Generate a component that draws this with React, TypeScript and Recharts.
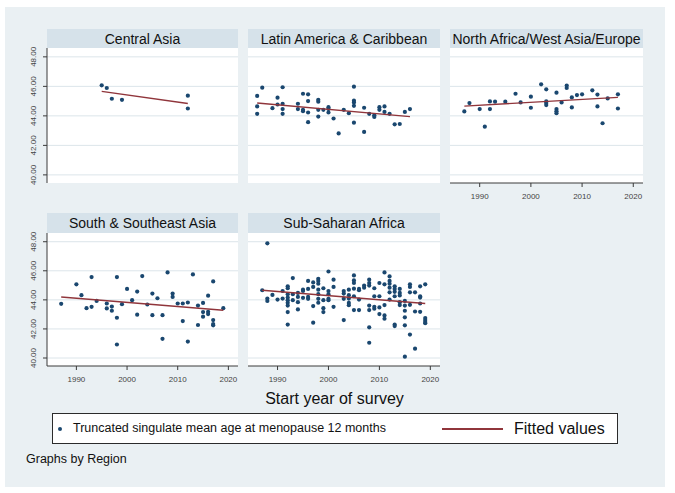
import React from "react";
import { ComposedChart, Scatter, XAxis, YAxis, ReferenceLine } from "recharts";

const yearTicks = [1990, 2000, 2010, 2020];
const ageTicks = [40, 42, 44, 46, 48];

// [start year, truncated singulate mean age at menopause]
const centralAsia = [
  [1995, 46.07], [1996, 45.89], [1997, 45.16], [1999, 45.09], [2012, 45.37], [2012, 44.5],
];
const centralAsiaFit = [[1995, 45.66], [2012, 44.84]];

const latinAmerica = [
  [1986, 45.35], [1986, 44.64], [1986, 44.14], [1987, 45.91], [1989, 44.52], [1990, 45.23],
  [1990, 44.77], [1991, 45.94], [1991, 44.82], [1991, 44.46], [1991, 44.14], [1994, 44.82],
  [1994, 44.46], [1995, 45.5], [1995, 44.41], [1995, 44.32], [1996, 45.46], [1996, 45.0],
  [1996, 44.23], [1996, 43.57], [1998, 45.09], [1998, 44.96], [1998, 44.41], [1998, 43.95],
  [1999, 44.41], [2000, 44.59], [2000, 44.46], [2000, 44.23], [2001, 43.82], [2002, 42.81],
  [2003, 44.41], [2004, 44.18], [2005, 45.98], [2005, 45.03], [2005, 44.91], [2005, 44.68],
  [2005, 43.54], [2007, 44.55], [2007, 42.91], [2008, 44.14], [2009, 44.05], [2009, 43.93],
  [2010, 44.59], [2010, 44.41], [2011, 44.64], [2011, 44.27], [2012, 44.14], [2013, 43.43],
  [2014, 43.45], [2015, 44.27], [2016, 44.46],
];
const latinAmericaFit = [[1986, 44.87], [2016, 43.95]];

const northAfrica = [
  [1987, 44.3], [1988, 44.87], [1990, 44.46], [1991, 43.27], [1992, 44.98], [1992, 44.46],
  [1993, 44.96], [1995, 44.96], [1997, 45.5], [1998, 44.91], [2000, 45.3], [2000, 44.55],
  [2002, 46.14], [2003, 45.8], [2003, 44.98], [2003, 44.87], [2003, 44.73], [2005, 45.57],
  [2005, 44.46], [2005, 44.32], [2005, 44.18], [2006, 44.91], [2007, 46.05], [2007, 45.89],
  [2008, 45.25], [2008, 44.57], [2009, 45.41], [2010, 45.46], [2012, 45.73], [2013, 45.44],
  [2013, 44.64], [2014, 43.5], [2015, 45.18], [2017, 45.46], [2017, 44.5],
];
const northAfricaFit = [[1987, 44.66], [2017, 45.25]];

const southAsia = [
  [1987, 43.73], [1990, 45.07], [1991, 44.32], [1992, 43.43], [1993, 43.52], [1993, 45.57],
  [1994, 43.93], [1996, 43.75], [1996, 43.41], [1997, 43.54], [1997, 43.25], [1998, 42.77],
  [1998, 45.57], [1998, 40.93], [1999, 43.7], [2000, 44.75], [2001, 43.98], [2002, 44.57],
  [2002, 42.98], [2003, 45.64], [2004, 43.68], [2005, 44.43], [2005, 42.95], [2006, 44.11],
  [2007, 42.95], [2007, 41.32], [2008, 45.89], [2009, 44.43], [2009, 44.2], [2010, 43.75],
  [2011, 43.75], [2011, 42.54], [2012, 43.82], [2012, 41.13], [2013, 45.75], [2014, 43.61],
  [2014, 42.27], [2015, 43.79], [2015, 43.16], [2015, 42.84], [2016, 44.29], [2016, 43.18],
  [2016, 43.02], [2017, 45.27], [2017, 42.61], [2017, 42.34], [2017, 42.25], [2019, 43.43],
];
const southAsiaFit = [[1987, 44.2], [2019, 43.29]];

const subSaharan = [
  [1987, 44.66], [1988, 47.89], [1988, 44.09], [1988, 43.93], [1989, 44.34], [1990, 44.02],
  [1991, 44.61], [1991, 44.09], [1992, 44.93], [1992, 44.8], [1992, 44.39], [1992, 44.16],
  [1992, 43.98], [1992, 43.8], [1992, 43.61], [1992, 43.16], [1992, 42.3], [1993, 45.5],
  [1993, 44.39], [1993, 43.98], [1994, 44.48], [1994, 44.2], [1994, 43.84], [1994, 43.34],
  [1995, 44.7], [1995, 44.61], [1995, 44.14], [1996, 45.3], [1996, 44.75], [1996, 44.2],
  [1996, 44.07], [1997, 45.2], [1997, 44.89], [1997, 43.57], [1997, 42.43], [1998, 45.45],
  [1998, 45.3], [1998, 45.11], [1998, 44.7], [1998, 44.39], [1998, 44.07], [1998, 43.8],
  [1999, 44.8], [1999, 43.98], [1999, 43.43], [1999, 43.16], [2000, 45.95], [2000, 44.61],
  [2000, 44.39], [2000, 44.07], [2000, 43.98], [2001, 45.39], [2001, 44.89], [2001, 43.52],
  [2003, 44.61], [2003, 44.43], [2003, 44.07], [2003, 42.61], [2004, 44.7], [2004, 44.32],
  [2004, 44.09], [2004, 43.79], [2004, 43.63], [2005, 45.68], [2005, 45.34], [2005, 45.16],
  [2005, 44.77], [2005, 44.25], [2005, 43.3], [2006, 44.75], [2006, 44.66], [2006, 44.02],
  [2006, 43.3], [2007, 44.98], [2007, 44.84], [2008, 45.39], [2008, 45.16], [2008, 44.98],
  [2008, 43.61], [2008, 43.3], [2008, 42.11], [2008, 41.05], [2009, 44.8], [2009, 44.25],
  [2009, 43.52], [2009, 43.39], [2010, 45.16], [2010, 44.25], [2010, 43.48], [2010, 43.02],
  [2011, 45.89], [2011, 45.07], [2011, 43.64], [2011, 42.93], [2011, 42.7], [2012, 45.61],
  [2012, 45.3], [2012, 45.11], [2012, 44.84], [2012, 44.52], [2012, 44.02], [2013, 44.93],
  [2013, 44.75], [2013, 44.55], [2013, 44.25], [2013, 42.3], [2013, 42.2], [2014, 44.75],
  [2014, 44.48], [2014, 44.3], [2014, 43.84], [2014, 43.64], [2015, 43.93], [2015, 43.61],
  [2015, 43.25], [2015, 42.8], [2015, 42.25], [2015, 40.09], [2016, 45.07], [2016, 44.89],
  [2016, 44.52], [2016, 43.66], [2016, 41.61], [2017, 44.52], [2017, 43.2], [2017, 40.64],
  [2018, 44.93], [2018, 44.25], [2018, 44.16], [2018, 43.75], [2018, 43.18], [2019, 45.07],
  [2019, 42.75], [2019, 42.61], [2019, 42.48], [2019, 42.39],
];
const subSaharanFit = [[1987, 44.66], [2019, 43.75]];

const NAVY = "#1a476f";
const MAROON = "#90353b";
const BG = "#eaf0f3";
const HEAD = "#d6e2ea";
const GRID = "#dce5ea";
const AXIS = "#3a3a3a";

const toPoints = (pairs: number[][]) => pairs.map(([year, age]) => ({ year, age }));

const Dot = (p: any) => <circle cx={p.cx} cy={p.cy} r={2.1} fill={NAVY} />;
const NoDot = () => <g />;

const YTick = ({ x, y, payload }: any) => (
  <text
    transform={`translate(${x - 10},${y}) rotate(-90)`}
    textAnchor="middle"
    dominantBaseline="central"
    fontSize={8}
    fill="#444"
  >
    {Number(payload.value).toFixed(2)}
  </text>
);

const XTick = ({ x, y, payload }: any) => (
  <text x={x} y={y + 9.5} textAnchor="middle" dominantBaseline="central" fontSize={8} fill="#444">
    {payload.value}
  </text>
);

interface PanelProps {
  title: string;
  data: number[][];
  fit: number[][];
  left: number;
  top: number;
  headH: number;
  plotH: number;
  width: number;
  showX: boolean;
  showY: boolean;
}

function Panel({ title, data, fit, left, top, headH, plotH, width, showX, showY }: PanelProps) {
  const YW = 30;
  const XH = 28;
  const R = 8;
  const T = 12;
  const plotTop = top + headH;
  return (
    <>
      <div
        style={{
          position: "absolute", left, top, width, height: headH, background: HEAD,
          display: "flex", alignItems: "center", justifyContent: "center",
          fontSize: 14, color: "#111", whiteSpace: "nowrap",
        }}
      >
        {title}
      </div>
      <div style={{ position: "absolute", left, top: plotTop, width, height: plotH, background: "#fff" }} />
      <div style={{ position: "absolute", left: left - YW, top: plotTop - T }}>
        <ComposedChart width={YW + width + R} height={T + plotH + XH} margin={{ top: T, right: R, bottom: 0, left: 0 }}>
          <XAxis
            type="number" dataKey="year" domain={[1984.2, 2021.9]} ticks={yearTicks} height={XH}
            allowDataOverflow tickSize={4} tickMargin={0}
            axisLine={showX ? { stroke: AXIS } : false}
            tickLine={showX ? { stroke: AXIS } : false}
            tick={showX ? <XTick /> : false}
          />
          <YAxis
            type="number" dataKey="age" domain={[39.45, 48.6]} ticks={ageTicks} width={YW}
            allowDataOverflow tickSize={4} tickMargin={0}
            axisLine={showY ? { stroke: AXIS } : false}
            tickLine={showY ? { stroke: AXIS } : false}
            tick={showY ? <YTick /> : false}
          />
          {ageTicks.map((t) => (
            <ReferenceLine key={t} y={t} stroke={GRID} strokeWidth={1} />
          ))}
          <Scatter data={toPoints(data)} shape={Dot} isAnimationActive={false} />
          <Scatter data={toPoints(fit)} shape={NoDot} line={{ stroke: MAROON, strokeWidth: 1.4 }} isAnimationActive={false} />
        </ComposedChart>
      </div>
    </>
  );
}

export default function App() {
  return (
    <div
      style={{
        position: "absolute", left: 0, top: 0, width: 675, height: 493, background: "#fff",
        fontFamily: "'Liberation Sans', Arial, sans-serif", overflow: "hidden",
      }}
    >
      <div style={{ position: "absolute", left: 5, top: 7, width: 660, height: 480, background: BG }} />

      <Panel title="Central Asia" data={centralAsia} fit={centralAsiaFit}
        left={47} top={29} headH={19} plotH={135} width={191} showX={false} showY />
      <Panel title="Latin America & Caribbean" data={latinAmerica} fit={latinAmericaFit}
        left={248} top={29} headH={19} plotH={135} width={192} showX={false} showY={false} />
      <Panel title="North Africa/West Asia/Europe" data={northAfrica} fit={northAfricaFit}
        left={450} top={29} headH={19} plotH={135} width={193} showX showY={false} />
      <Panel title="South & Southeast Asia" data={southAsia} fit={southAsiaFit}
        left={47} top={213} headH={20} plotH={133} width={191} showX showY />
      <Panel title="Sub-Saharan Africa" data={subSaharan} fit={subSaharanFit}
        left={248} top={213} headH={20} plotH={133} width={192} showX showY={false} />

      <div style={{ position: "absolute", left: 0, top: 390, width: 669, textAlign: "center", fontSize: 16, lineHeight: "18px", color: "#111" }}>
        Start year of survey
      </div>

      <div
        style={{
          position: "absolute", left: 52, top: 413, width: 566, height: 31, boxSizing: "border-box",
          border: "1px solid #2b2b2b", background: "#fff",
        }}
      >
        <div style={{ position: "absolute", left: 5, top: 13, width: 4.2, height: 4.2, borderRadius: "50%", background: NAVY }} />
        <div style={{ position: "absolute", left: 20, top: 0, height: 29, lineHeight: "29px", fontSize: 12.5, color: "#111", whiteSpace: "nowrap" }}>
          Truncated singulate mean age at menopause 12 months
        </div>
        <div style={{ position: "absolute", left: 389, top: 14, width: 61, height: 1.5, background: MAROON }} />
        <div style={{ position: "absolute", left: 461, top: 0, height: 29, lineHeight: "29px", fontSize: 16, color: "#111", whiteSpace: "nowrap" }}>
          Fitted values
        </div>
      </div>

      <div style={{ position: "absolute", left: 26, top: 451, fontSize: 12.5, lineHeight: "16px", color: "#111", whiteSpace: "nowrap" }}>
        Graphs by Region
      </div>
    </div>
  );
}
